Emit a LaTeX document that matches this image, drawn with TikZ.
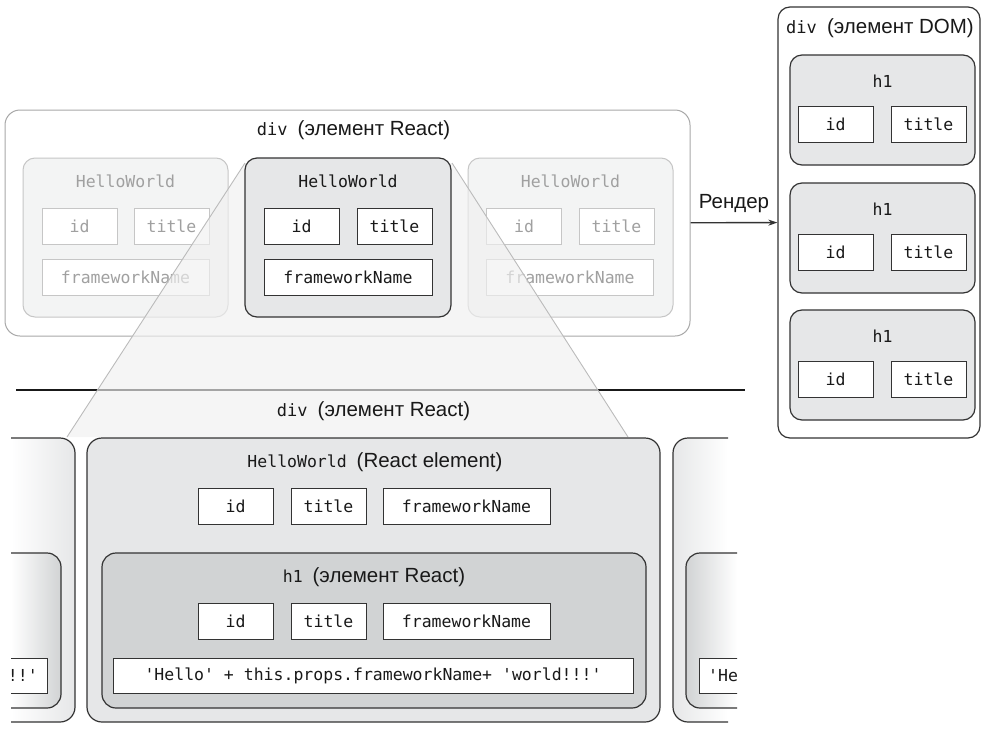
\documentclass[tikz,border=0pt]{standalone}
\usepackage{fontspec}
\setmainfont{Liberation Sans}
\setmonofont{DejaVu Sans Mono}
\usetikzlibrary{arrows.meta}
\definecolor{elgrey}{HTML}{E6E7E8}
\definecolor{hgrey}{HTML}{D1D3D4}
\definecolor{dark}{HTML}{333333}
\definecolor{ghostfill}{HTML}{F3F4F4}
\definecolor{ghostline}{HTML}{C6C6C6}
\definecolor{ghosttext}{HTML}{A0A0A0}
\definecolor{outerline}{HTML}{A8A8A8}
\definecolor{trapline}{HTML}{BBBBBB}
\definecolor{trapfill}{HTML}{F0F0F0}
\begin{document}
\begin{tikzpicture}[x=1pt,y=-1pt,
  monotext/.style={font=\fontsize{16.5}{19}\selectfont\ttfamily},
  headtext/.style={font=\fontsize{20.5}{24}\selectfont, text=black!90, inner sep=0pt},
  sz/.style 2 args={minimum width=#1pt, minimum height=#2pt},
  field/.style={draw=dark, line width=1pt, fill=white, rectangle, inner sep=0pt, minimum height=36pt, monotext, text=black!90},
  ghostfield/.style={field, draw=ghostline, text=ghosttext},
  elbox/.style={draw=dark, line width=1.2pt, fill=elgrey, rectangle, rounded corners=12pt, inner sep=0pt},
  hbox/.style={elbox, fill=hgrey, rounded corners=14pt},
  ghostbox/.style={draw=ghostline, line width=1pt, fill=ghostfill, rectangle, rounded corners=12pt, inner sep=0pt},
  outerbox/.style={draw=outerline, line width=1pt, fill=white, rectangle, rounded corners=15pt, inner sep=0pt},
  domcol/.style={draw=dark, line width=1.2pt, fill=white, rectangle, rounded corners=12pt, inner sep=0pt},
  lbl/.style={monotext, inner sep=0pt, text=black!90},
  ghostlbl/.style={lbl, text=ghosttext},
]
\useasboundingbox (0,0) rectangle (987,739);

% ---------- top: div (React element) ----------
\node[outerbox, sz={685}{226}] (reactdiv) at (347.5,223) {};
\node[headtext] (reacttitle) at (353.5,130) {{\fontsize{17}{20}\selectfont\ttfamily div }(элемент React)};

% left ghost
\node[ghostbox, sz={205}{159}] (hwl) at (125.5,237.5) {};
\node[ghostlbl] (hwlt) at (125.5,181) {HelloWorld};
\node[ghostfield, sz={75}{36}] (hwlid) at (79.5,226) {id};
\node[ghostfield, sz={75}{36}] (hwltitle) at (171.5,226) {title};
\node[ghostfield, sz={167}{36}] (hwlfw) at (125.5,277) {frameworkName};

% right ghost
\node[ghostbox, sz={205}{159}] (hwr) at (570.5,237.5) {};
\node[ghostlbl] (hwrt) at (570.5,181) {HelloWorld};
\node[ghostfield, sz={75}{36}] (hwrid) at (524,226) {id};
\node[ghostfield, sz={75}{36}] (hwrtitle) at (616.5,226) {title};
\node[ghostfield, sz={167}{36}] (hwrfw) at (570,277) {frameworkName};

% separator line
\coordinate (sepA) at (16,390);
\coordinate (sepB) at (745,390);
\draw[line width=1.5pt, black!90] (sepA) -- (sepB);

% zoom trapezoid
\coordinate (trTL) at (245,163);
\coordinate (trTR) at (452,163);
\coordinate (trBR) at (628,437);
\coordinate (trBL) at (67,437);
\fill[trapfill, fill opacity=0.65] (trTL) -- (trTR) -- (trBR) -- (trBL) -- cycle;
\draw[trapline, line width=0.9pt] (trTL) -- (trBL);
\draw[trapline, line width=0.9pt] (trTR) -- (trBR);

% middle HelloWorld
\node[elbox, sz={206}{159}] (hwm) at (348,237.5) {};
\node[lbl] (hwmt) at (348,181) {HelloWorld};
\node[field, sz={75}{36}] (hwmid) at (301.5,226) {id};
\node[field, sz={75}{36}] (hwmtitle) at (394.5,226) {title};
\node[field, sz={168}{36}] (hwmfw) at (348,277) {frameworkName};

% ---------- bottom: expanded view ----------
\node[headtext] (bottitle) at (373.5,411) {{\fontsize{17}{20}\selectfont\ttfamily div }(элемент React)};

\node[elbox, rounded corners=15pt, sz={573}{284}] (big) at (373.5,580) {};
\node[headtext] (bigt) at (375,462) {{\fontsize{16.5}{19}\selectfont\ttfamily HelloWorld }(React element)};
\node[field, sz={75}{36}] (bigid) at (235.5,506) {id};
\node[field, sz={75}{36}] (bigtitle) at (328.5,506) {title};
\node[field, sz={167}{36}] (bigfw) at (466.5,506) {frameworkName};

\node[hbox, sz={544}{155}] (hin) at (374,630.5) {};
\node[headtext] (hint) at (374,577) {{\fontsize{16.5}{19}\selectfont\ttfamily h1 }(элемент React)};
\node[field, sz={75}{36}] (hinid) at (235.5,621) {id};
\node[field, sz={75}{36}] (hintitle) at (328.5,621) {title};
\node[field, sz={167}{36}] (hinfw) at (466.5,621) {frameworkName};
\node[field, sz={520}{35}] (hinlong) at (373,675.5) {'Hello' + this.props.frameworkName+ 'world!!!'};

% left partial copy
\begin{scope}
  \clip[rounded corners=15pt] (-40,438) rectangle (75,722);
  \shade[left color=white, right color=elgrey] (11,438) rectangle (75,722);
\end{scope}
\begin{scope}
  \clip (11,420) rectangle (85,730);
  \draw[dark, line width=1.2pt, rounded corners=15pt] (-40,438) rectangle (75,722);
\end{scope}
\begin{scope}
  \clip[rounded corners=14pt] (-40,553) rectangle (61,708);
  \shade[left color=white, right color=hgrey] (11,553) rectangle (61,708);
\end{scope}
\begin{scope}
  \clip (11,540) rectangle (70,715);
  \draw[dark, line width=1.2pt, rounded corners=14pt] (-40,553) rectangle (61,708);
  \node[field, sz={100}{35}, anchor=east] (lplong) at (48,675.5) {};
  \node[lbl, anchor=east] (lplongt) at (38,675.5) {'world!!!'};
\end{scope}

% right partial copy
\begin{scope}
  \clip[rounded corners=15pt] (673,438) rectangle (800,722);
  \shade[left color=elgrey, right color=white] (673,438) rectangle (728,722);
\end{scope}
\begin{scope}
  \clip (660,420) rectangle (728,730);
  \draw[dark, line width=1.2pt, rounded corners=15pt] (673,438) rectangle (800,722);
\end{scope}
\begin{scope}
  \clip[rounded corners=14pt] (686,553) rectangle (800,708);
  \shade[left color=hgrey, right color=white] (686,553) rectangle (737,708);
\end{scope}
\begin{scope}
  \clip (675,540) rectangle (737,715);
  \draw[dark, line width=1.2pt, rounded corners=14pt] (686,553) rectangle (800,708);
  \node[field, sz={100}{35}, anchor=west] (rplong) at (699,675.5) {};
  \node[lbl, anchor=west] (rplongt) at (708,675.5) {'Hello'};
\end{scope}

% ---------- DOM column ----------
\node[domcol, sz={202}{431}] (domdiv) at (879,222.5) {};
\node[headtext] (domt) at (880,28) {{\fontsize{17}{20}\selectfont\ttfamily div }(элемент DOM)};
\foreach \k/\cy in {1/110, 2/238, 3/365} {
  \node[elbox, sz={185}{110}] (h\k) at (882.5,\cy) {};
  \node[lbl] (h\k t) at (882.5,\cy-29) {h1};
  \node[field, sz={75}{36}] (h\k id) at (835.5,\cy+14) {id};
  \node[field, sz={75}{36}] (h\k title) at (928.5,\cy+14) {title};
}

% render arrow
\draw[dark, line width=1.3pt, -{Stealth[length=9pt,width=6pt]}] (reactdiv) -- (domdiv)
  node[midway, above=9pt, headtext] (render) {Рендер};
\end{tikzpicture}
\end{document}
